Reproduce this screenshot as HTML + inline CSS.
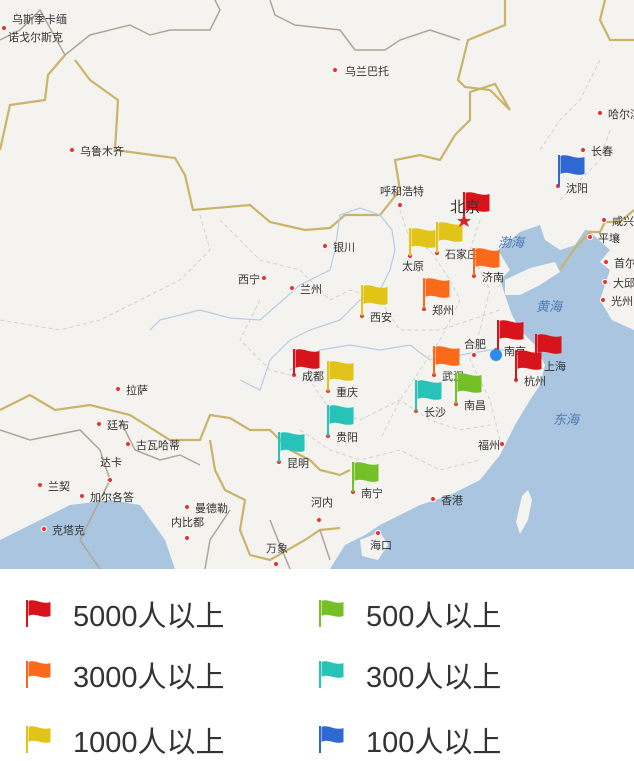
<!DOCTYPE html>
<html><head><meta charset="utf-8"><style>
body{margin:0;width:634px;height:761px;background:#fff;overflow:hidden;font-family:"Liberation Sans","Noto Sans CJK SC",sans-serif}
svg{display:block}
</style></head><body>
<svg id="map" width="634" height="761" viewBox="0 0 634 761">
<rect x="0" y="0" width="634" height="569" fill="#f4f3ef"/>
<g fill="#a9c5e0">
<path d="M498,250 L520,232 L540,225 L545,240 L560,250 L575,245 L585,230 L600,232 L610,250 L600,262 L610,270 L600,300 L612,320 L634,330 L634,569 L330,569 L345,545 L365,535 L380,525 L420,505 L450,495 L480,480 L500,455 L515,425 L530,400 L540,385 L545,365 L535,345 L520,330 L512,315 L505,295 L500,280 L510,270 Z"/>
<path d="M0,569 L0,540 L40,520 L70,505 L110,500 L140,505 L165,540 L175,569 Z"/>
<path d="M560,160 L580,150 L600,145 L634,160 L634,220 L620,210 L600,205 L590,190 L570,185 Z" fill="none"/>
</g>
<path d="M522,496 L528,490 L532,500 L528,520 L520,534 L516,522 Z" fill="#f4f3ef"/>
<path d="M590,232 L605,228 L622,240 L634,245 L634,330 L612,320 L600,300 L610,270 L600,262 L610,250 Z" fill="#f4f3ef"/>
<path d="M505,280 L530,268 L555,262 L560,272 L540,285 L520,295 L505,295 Z" fill="#f4f3ef"/>
<path d="M360,540 L380,532 L388,545 L378,560 L362,556 Z" fill="#f4f3ef"/>
<g fill="none" stroke="#cbb36a" stroke-width="2.2">
<path d="M65,55 L48,75 L45,100 L10,105 L0,150 M75,60 L90,80 L118,100 L115,150 L175,158 L185,175 L193,210 L250,205 L270,222 L305,230 L330,228 L345,215 L380,215 L400,190 L395,160 L420,155 L440,160 L455,135 L470,120 L470,92 L495,84 L510,110 L490,90 L465,87 L458,80 L468,40 L505,25 L505,0"/>
<path d="M0,410 L30,395 L55,410 L90,405 L130,415 L170,440 L200,440 L210,415 L230,418 L250,430 L270,430 L290,450 L300,455 L310,460 L320,470 L340,475 L350,470 M210,440 L215,470 L225,490 L245,500 L240,530 L250,555 L270,560 L305,540 L320,530 L340,528"/>
<path d="M560,270 L575,248 L590,232 L600,232 L605,222 L620,222 L634,210 M605,0 L600,20 L610,40 L634,40"/>
</g>
<g fill="none" stroke="#b0a595" stroke-width="1.5">
<path d="M270,0 L275,15 L295,25 L340,30 L355,50 L385,50 L400,40 L430,30 L460,40"/>
<path d="M0,40 L20,30 L40,10 L65,55 L90,35 L130,25 L150,35 L170,30 L210,30 L220,10 L215,0"/>
<path d="M0,430 L30,440 L80,430 L100,450 L110,480 L90,520 L80,540 L100,569 M120,420 L135,450 L160,460 L180,455 L200,465 M230,510 L210,540 L205,569 M270,520 L280,545 L290,569 M320,530 L330,560"/>
</g>
<g fill="none" stroke="#d4d2cc" stroke-width="1" stroke-dasharray="4,3">
<path d="M200,215 L210,250 L180,280 L140,300 L100,320 L60,330 L0,320 M220,220 L260,260 L300,270 L330,300 L350,290 L380,300 L400,330 L440,330 L470,320 L500,310"/>
<path d="M260,300 L240,340 L270,370 L310,380 L330,410 L360,420 L400,400 L430,420 L460,430 L490,425 M300,430 L330,450 L360,460 L400,450 L440,470 L480,460"/>
<path d="M400,210 L410,240 L430,250 L450,280 L460,300 L440,340 L420,370 L400,400 L380,440 M480,220 L470,250 L490,290 L480,330 L470,360 L490,400 L500,440"/>
<path d="M540,150 L560,120 L580,100 L600,60 M560,200 L580,180 L600,160 L610,130"/>
</g>
<g fill="none" stroke="#b7cde3" stroke-width="1.2">
<path d="M240,380 L260,390 L270,360 L290,340 L310,330 L340,320 L360,300 L380,290 L390,270 L395,250 L392,230 L380,215 L360,208 L340,215 L335,250 L330,270 L300,285 L260,320 L230,318 L200,310 L160,320 L150,330"/>
<path d="M290,370 L320,350 L350,345 L380,350 L410,345 L430,360 L460,355 L490,350 L510,350"/>
</g>
<g id="cities"></g>
<g id="flags"></g>
<circle cx="496" cy="355" r="6" fill="#2d8cf0"/>
<text x="498" y="247" font-size="13" font-style="italic" fill="#4a7bb5">渤海</text>
<text x="536" y="311" font-size="13" font-style="italic" fill="#4a7bb5">黄海</text>
<text x="553" y="424" font-size="13" font-style="italic" fill="#4a7bb5">东海</text>
<text x="450" y="212" font-size="15" fill="#333">北京</text>
<path d="M464,214 L466,219 L471,219 L467,222 L469,227 L464,224 L459,227 L461,222 L457,219 L462,219 Z" fill="#e0202a"/>
<g id="legend"></g>
</svg>
<script>
const NS='http://www.w3.org/2000/svg';
const cityNames=['乌斯季卡缅','诺戈尔斯克','乌兰巴托','乌鲁木齐','哈尔滨','长春','沈阳','呼和浩特','银川','西宁','兰州','太原','石家庄','济南','平壤','首尔','郑州','西安','合肥','南京','上海','杭州','成都','重庆','武汉','南昌','长沙','拉萨','廷布','古瓦哈蒂','贵阳','昆明','福州','达卡','兰契','加尔各答','曼德勒','南宁','香港','河内','内比都','海口','克塔克','万象','光州','大邱','咸兴'];
const cityX=[4,0,335,72,600,583,558,400,325,264,292,410,437,474,590,606,424,362,474,496,536,516,294,328,434,456,416,118,99,128,328,279,502,110,40,82,187,353,433,319,187,378,44,276,603,605,604];
const cityY=[28,0,70,150,113,150,186,205,246,278,288,256,253,276,237,262,309,316,355,350,365,380,375,391,375,404,411,389,424,444,436,462,444,480,485,496,507,492,499,520,538,533,529,564,300,282,220];
const labelDX=[8,8,10,8,8,8,8,-20,8,-26,8,-8,8,8,8,8,8,8,-10,8,8,8,8,8,8,8,8,8,8,8,8,8,-24,-10,8,8,8,8,8,-8,-16,-8,8,-10,8,8,8];
const labelDY=[-5,40,5,5,5,5,6,-10,5,5,5,14,5,5,5,5,5,5,-7,5,5,5,5,5,5,5,5,5,5,5,5,5,5,-14,5,5,5,5,5,-14,-12,16,5,-12,5,5,5];
const flagCity=['北京','太原','石家庄','济南','郑州','西安','沈阳','南京','上海','杭州','武汉','南昌','长沙','成都','重庆','贵阳','昆明','南宁'];
const flagCat=[0,2,2,1,1,2,5,0,0,0,1,3,4,0,2,4,4,3];
const catColors=['#d7141c','#fb6a1b','#e2c318','#74c127','#27c3b9','#2f68d2'];
const catLabels=['5000人以上','3000人以上','1000人以上','500人以上','300人以上','100人以上'];
const flagPoleX=[464,410,437,474,424,362,559,498,536,516,434,456,416,294,328,328,279,353];
const flagTopY=[192,228,222,248,278,285,155,320,334,350,346,373,380,349,361,405,432,462];
const flagBaseY=[221,256,253,276,309,316,186,350,365,380,375,404,411,375,391,436,462,492];
const cg=document.getElementById('cities');
cityNames.forEach((n,i)=>{
 if(n==='北京')return;
 const x=cityX[i],y=cityY[i];
 if(i!==1){
 const c=document.createElementNS(NS,'circle');
 
 
 c.setAttribute('cx',x);c.setAttribute('cy',y);c.setAttribute('r',2.6);
 c.setAttribute('fill','#e33');c.setAttribute('stroke','#fff');c.setAttribute('stroke-width','1');
 cg.appendChild(c);}
 const t=document.createElementNS(NS,'text');
 
 
 t.setAttribute('x',x+labelDX[i]);t.setAttribute('y',i===1?41:y+labelDY[i]);
 t.setAttribute('font-size','11');t.setAttribute('fill','#333');
 t.textContent=n;cg.appendChild(t);
});
function flagPath(x,y,w,h){
 return `M${x},${y} C${x+w*0.3},${y-3} ${x+w*0.6},${y+4} ${x+w},${y+1} L${x+w},${y+h} C${x+w*0.6},${y+h+3} ${x+w*0.3},${y+h-4} ${x},${y+h} Z`;
}
const fg=document.getElementById('flags');
flagCity.forEach((n,i)=>{
 const col=catColors[flagCat[i]],x=flagPoleX[i],y=flagTopY[i];
 const p=document.createElementNS(NS,'line');
 
 
 p.setAttribute('x1',x);p.setAttribute('x2',x);p.setAttribute('y1',y);p.setAttribute('y2',flagBaseY[i]);
 p.setAttribute('stroke',col);p.setAttribute('stroke-width','2');fg.appendChild(p);
 const f=document.createElementNS(NS,'path');
 
 
 f.setAttribute('d',flagPath(x+1.5,y+1,24,18));f.setAttribute('fill',col);fg.appendChild(f);
});
const lg=document.getElementById('legend');
catLabels.forEach((l,i)=>{
 const col=Math.floor(i/3),row=i%3;
 const x=col?320:27,y=[600,661,726][row];
 const p=document.createElementNS(NS,'line');
 
 
 p.setAttribute('x1',x);p.setAttribute('x2',x);p.setAttribute('y1',y);p.setAttribute('y2',y+27);
 p.setAttribute('stroke',catColors[i]);p.setAttribute('stroke-width','2');lg.appendChild(p);
 const f=document.createElementNS(NS,'path');
 
 
 f.setAttribute('d',flagPath(x+1.5,y+1,22,15));f.setAttribute('fill',catColors[i]);lg.appendChild(f);
 const t=document.createElementNS(NS,'text');
 
 
 t.setAttribute('x',x+46);t.setAttribute('y',y+26);
 t.setAttribute('font-size','29');t.setAttribute('fill','#333');
 t.textContent=l;lg.appendChild(t);
});
</script>
</body></html>
